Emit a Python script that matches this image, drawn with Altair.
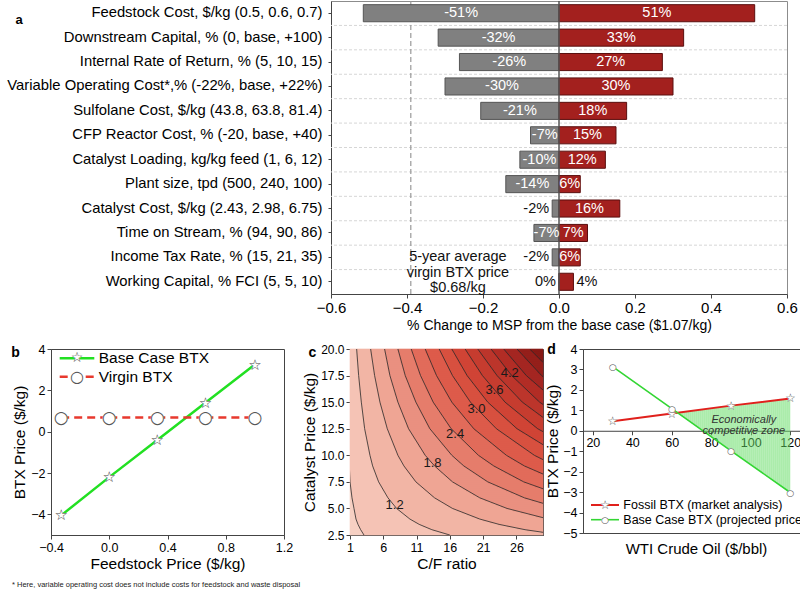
import altair as alt
import pandas as pd

FONT = "Liberation Sans"
GLYPH_FONT = "DejaVu Sans"

# ---------------- panel a : tornado ----------------
a_params = [
    "Feedstock Cost, $/kg (0.5, 0.6, 0.7)",
    "Downstream Capital, % (0, base, +100)",
    "Internal Rate of Return, % (5, 10, 15)",
    "Variable Operating Cost*,% (-22%, base, +22%)",
    "Sulfolane Cost, $/kg (43.8, 63.8, 81.4)",
    "CFP Reactor Cost, % (-20, base, +40)",
    "Catalyst Loading, kg/kg feed (1, 6, 12)",
    "Plant size, tpd (500, 240, 100)",
    "Catalyst Cost, $/kg (2.43, 2.98, 6.75)",
    "Time on Stream, % (94, 90, 86)",
    "Income Tax Rate, % (15, 21, 35)",
    "Working Capital, % FCI (5, 5, 10)",
]
a_low = [-0.515, -0.318, -0.262, -0.300, -0.206, -0.075, -0.103, -0.140, -0.018, -0.066, -0.018, 0.0]
a_high = [0.515, 0.328, 0.272, 0.300, 0.178, 0.150, 0.122, 0.056, 0.160, 0.075, 0.056, 0.038]
a_low_text = ["-51%", "-32%", "-26%", "-30%", "-21%", "-7%", "-10%", "-14%", "-2%", "-7%", "-2%", "0%"]
a_high_text = ["51%", "33%", "27%", "30%", "18%", "15%", "12%", "6%", "16%", "7%", "6%", "4%"]
a_virgin_rel = -0.39
a_note = "5-year average\nvirgin BTX price\n$0.68/kg"
a_note_x = -0.266
a_note_row = "Income Tax Rate, % (15, 21, 35)"
a_xticks = [-0.6, -0.4, -0.2, 0.0, 0.2, 0.4, 0.6]
a_xtitle = "% Change to MSP from the base case ($1.07/kg)"

# ---------------- panel b ----------------
b_feed = [-0.33, 0.0, 0.33, 0.66, 1.0]
b_base = [-4.05, -2.2, -0.4, 1.4, 3.25]
b_virgin = [0.68, 0.68, 0.68, 0.68, 0.68]
b_series = ["Base Case BTX", "Virgin BTX"]
b_xticks = [-0.4, 0.0, 0.4, 0.8, 1.2]
b_yticks = [-4, -2, 0, 2, 4]

# ---------------- panel c : contour map ----------------
c_levels = [0.9, 1.2, 1.5, 1.8, 2.1, 2.4, 2.7, 3.0, 3.3, 3.6, 3.9, 4.2, 4.5, 4.8, 5.1]
c_price = [2.5, 3, 3.5, 4, 5, 6, 7.5, 9, 10, 12.5, 15, 17.5, 20]
N = None
c_cf = [
    [3.1, 2.6, 2.2, 1.9, 1.6, 1.3, 1.0, 0.9, 0.8, 0.6, 0.5, 0.4, 0.35],
    [16.0, 13.3, 11.4, 10.0, 8.0, 6.7, 5.3, 4.4, 4.0, 3.2, 2.7, 2.3, 2.0],
    [32.8, 27.3, 23.4, 20.5, 16.4, 13.7, 10.9, 9.1, 8.2, 6.6, 5.5, 4.7, 4.1],
    [N, N, N, 30.8, 24.6, 20.5, 16.4, 13.7, 12.3, 9.8, 8.2, 7.0, 6.2],
    [N, N, N, N, 32.6, 27.2, 21.7, 18.1, 16.3, 13.0, 10.9, 9.3, 8.2],
    [N, N, N, N, N, 33.8, 27.1, 22.6, 20.3, 16.2, 13.5, 11.6, 10.2],
    [N, N, N, N, N, N, 32.7, 27.2, 24.5, 19.6, 16.3, 14.0, 12.3],
    [N, N, N, N, N, N, N, 31.9, 28.7, 23.0, 19.1, 16.4, 14.4],
    [N, N, N, N, N, N, N, N, 32.6, 26.1, 21.7, 18.6, 16.3],
    [N, N, N, N, N, N, N, N, 36.5, 29.2, 24.3, 20.9, 18.3],
    [N, N, N, N, N, N, N, N, N, 32.3, 26.9, 23.1, 20.2],
    [N, N, N, N, N, N, N, N, N, 35.4, 29.5, 25.3, 22.2],
    [N, N, N, N, N, N, N, N, N, N, 32.1, 27.5, 24.1],
    [N, N, N, N, N, N, N, N, N, N, 34.7, 29.8, 26.1],
    [N, N, N, N, N, N, N, N, N, N, N, 32.0, 28.0],
]
c_palette = ["#f7d0c3", "#f5c4b5", "#f2b5a5", "#efa594", "#ea9180", "#e67e6c", "#e26b5a", "#dd5c4b",
             "#d8503f", "#d04536", "#c73d30", "#bd352b", "#b22e26", "#a42721", "#96201b", "#881a16"]
c_label_text = ["1.2", "1.8", "2.4", "3.0", "3.6", "4.2"]
c_label_cf = [7.7, 13.4, 16.8, 20.0, 22.7, 25.0]
c_label_price = [5.3, 9.25, 12.0, 14.4, 16.1, 17.7]
c_xticks = [1, 6, 11, 16, 21, 26]
c_yticks = [2.5, 5.0, 7.5, 10.0, 12.5, 15.0, 17.5, 20.0]
C_XDOM = [1, 30]
C_YDOM = [2.5, 20]

# ---------------- panel d ----------------
d_wti = [30, 60, 90, 120]
d_fossil = [0.47, 0.84, 1.23, 1.58]
d_base = [3.14, 1.08, -0.98, -3.02]
d_series = ["Fossil BTX (market analysis)", "Base Case BTX (projected price)"]
d_zone = "Economically\ncompetitive zone"
d_zone_x, d_zone_y = 96.5, 0.55
d_xticks = [20, 40, 60, 80, 100, 120]
d_yticks = [-5, -4, -3, -2, -1, 0, 1, 2, 3, 4]
d_xtitle = "WTI Crude Oil ($/bbl)"
D_XDOM = [15, 130]
D_YDOM = [-5, 4]

footnote = "* Here, variable operating cost does not include costs for feedstock and waste disposal"

STAR_FILL, STAR_LINE = "\u2605", "\u2606"
DOT_FILL, DOT_LINE = "\u25cf", "\u25cb"


def one(**kw):
    return pd.DataFrame({k: [v] for k, v in kw.items()})


def segments(xs, ys):
    return pd.DataFrame([dict(sx=xs[i], sy=ys[i], sx2=xs[i + 1], sy2=ys[i + 1]) for i in range(len(xs) - 1)])


def interp(xs, ys, x):
    for k in range(len(xs) - 1):
        if xs[k] <= x <= xs[k + 1]:
            return ys[k] + (ys[k + 1] - ys[k]) * (x - xs[k]) / (xs[k + 1] - xs[k])
    return None


def glyph_layers(df, xenc, yenc, fill_glyph, line_glyph, size, line_color):
    """Marker drawn as a white filled glyph under an outlined glyph (text marks)."""
    d = df.assign(g1=fill_glyph, g2=line_glyph)
    under = alt.Chart(d).mark_text(font=GLYPH_FONT, fontSize=size, color="white", baseline="middle",
                                   align="center").encode(x=xenc, y=yenc, text="g1:N")
    over = alt.Chart(d).mark_text(font=GLYPH_FONT, fontSize=size, color=line_color, baseline="middle",
                                  align="center").encode(x=xenc, y=yenc, text="g2:N")
    return [under, over]


# ======================= panel a =======================
A_W, A_H = 456, 293
rows = []
for i, p in enumerate(a_params):
    for side, v, t in (("low", a_low[i], a_low_text[i]), ("high", a_high[i], a_high_text[i])):
        if abs(v) >= 0.05:
            kind, pos = "in", v / 2
        else:
            kind, pos = ("outneg" if side == "low" else "outpos"), v
        rows.append(dict(param=p, side=side, v=v, txt=t, kind=kind, pos=pos, idx=i))
df_a = pd.DataFrame(rows)
df_a_txt = df_a[["param", "txt", "kind", "pos"]].rename(columns={"pos": "v"})

xa = alt.X("v:Q", title=a_xtitle,
           scale=alt.Scale(domain=[-0.6, 0.6], nice=False, zero=False),
           axis=alt.Axis(values=a_xticks, format=".1f", titleFontSize=14, labelFontSize=15,
                         tickSize=4, labelPadding=2, titlePadding=3, labelFlush=False,
                         labelOverlap=False))
ya = alt.Y("param:N", sort=a_params, title=None,
           scale=alt.Scale(paddingInner=0, paddingOuter=0),
           axis=alt.Axis(labelFontSize=14.8, labelLimit=500, tickSize=3, labelPadding=6))

sep = alt.Chart(df_a).transform_filter("datum.side == 'low' && datum.idx > 0").mark_rule(
    color="#d6d6d6", strokeDash=[3, 2], strokeWidth=1
).encode(y=alt.Y("param:N", sort=a_params, bandPosition=0, title=None))
virgin_a = alt.Chart(pd.DataFrame({"v": [a_virgin_rel]})).mark_rule(
    color="#9a9a9a", strokeDash=[5, 3], strokeWidth=1.2).encode(x=xa)
bars = alt.Chart(df_a).mark_bar(height=alt.RelativeBandSize(0.7), strokeWidth=1).encode(
    x=xa, x2=alt.datum(0), y=ya,
    fill=alt.Fill("side:N", scale=alt.Scale(domain=["low", "high"], range=["#808080", "#a3201e"]), legend=None),
    stroke=alt.Stroke("side:N", scale=alt.Scale(domain=["low", "high"], range=["#555555", "#5a0e0e"]), legend=None),
)
zero = alt.Chart(pd.DataFrame({"v": [0.0]})).mark_rule(color="#555555", strokeWidth=1.5).encode(x=xa)
txt_in = alt.Chart(df_a_txt).transform_filter("datum.kind == 'in'").mark_text(
    color="white", fontSize=14.5, align="center", baseline="middle").encode(x=xa, y=ya, text="txt:N")
txt_neg = alt.Chart(df_a_txt).transform_filter("datum.kind == 'outneg'").mark_text(
    color="#111", fontSize=14.5, align="right", baseline="middle", dx=-3).encode(x=xa, y=ya, text="txt:N")
txt_pos = alt.Chart(df_a_txt).transform_filter("datum.kind == 'outpos'").mark_text(
    color="#111", fontSize=14.5, align="left", baseline="middle", dx=3).encode(x=xa, y=ya, text="txt:N")
note_a = alt.Chart(pd.DataFrame({"v": [a_note_x], "param": [a_note_row], "txt": [a_note]})).mark_text(
    lineBreak="\n", fontSize=14.5, lineHeight=15.5, color="#111", baseline="middle").encode(x=xa, y=ya, text="txt:N")
letter_a = alt.Chart(one(t="a")).mark_text(
    fontSize=13, fontWeight="bold", baseline="middle").encode(x=alt.value(-312), y=alt.value(19), text="t:N")
panel_a = alt.layer(sep, virgin_a, bars, zero, txt_in, txt_neg, txt_pos, note_a, letter_a).properties(
    width=A_W, height=A_H, view=alt.ViewBackground(stroke="#8c8c8c"))

# ======================= panel b =======================
B_W, B_H = 233, 186
xb_scale = alt.Scale(domain=[-0.4, 1.2], nice=False, zero=False)
yb_scale = alt.Scale(domain=[-5, 4], nice=False, zero=False)
xb_axis = alt.Axis(values=b_xticks, format=".1f", labelFlush=False, labelOverlap=False, tickSize=4,
                   labelFontSize=12.5, titleFontSize=15.5, labelPadding=2, titlePadding=3)
yb_axis = alt.Axis(values=b_yticks, labelOverlap=False, tickSize=4,
                   labelFontSize=12.5, titleFontSize=15.5, labelPadding=2, titlePadding=3)


def bx(f):
    return alt.X(f, title="Feedstock Price ($/kg)", scale=xb_scale, axis=xb_axis)


def by(f):
    return alt.Y(f, title="BTX Price ($/kg)", scale=yb_scale, axis=yb_axis)


seg_b_base = alt.Chart(segments(b_feed, b_base)).mark_rule(color="#22e022", strokeWidth=2.5, strokeCap="round").encode(
    x=bx("sx:Q"), y=by("sy:Q"), x2="sx2:Q", y2="sy2:Q")
seg_b_virgin = alt.Chart(segments(b_feed, b_virgin)).mark_rule(color="#e8392e", strokeWidth=2.5, strokeDash=[8, 5]).encode(
    x=bx("sx:Q"), y=by("sy:Q"), x2="sx2:Q", y2="sy2:Q")
df_b_base = pd.DataFrame({"px": b_feed, "py": b_base})
df_b_virgin = pd.DataFrame({"px": b_feed, "py": b_virgin})
mk_b = (glyph_layers(df_b_base, bx("px:Q"), by("py:Q"), STAR_FILL, STAR_LINE, 15, "#444")
        + glyph_layers(df_b_virgin, bx("px:Q"), by("py:Q"), DOT_FILL, DOT_LINE, 17, "#555"))
leg_pt = one(t=0)
lg_b = [
    alt.Chart(one(t=0)).mark_rule(color="#22e022", strokeWidth=2.5).encode(
        x=alt.value(8.7), x2=alt.value(43.3), y=alt.value(9.3)),
    alt.Chart(one(t=STAR_FILL)).mark_text(font=GLYPH_FONT, fontSize=14, color="white", baseline="middle").encode(
        x=alt.value(26), y=alt.value(9.3), text="t:N"),
    alt.Chart(one(t=STAR_LINE)).mark_text(font=GLYPH_FONT, fontSize=14, color="#444", baseline="middle").encode(
        x=alt.value(26), y=alt.value(9.3), text="t:N"),
    alt.Chart(one(t=b_series[0])).mark_text(fontSize=15.5, align="left", baseline="middle", color="#000").encode(
        x=alt.value(47.7), y=alt.value(9.3), text="t:N"),
    alt.Chart(one(t=0)).mark_rule(color="#e8392e", strokeWidth=2.5, strokeDash=[8, 5]).encode(
        x=alt.value(8.7), x2=alt.value(43.3), y=alt.value(27.7)),
    alt.Chart(one(t=DOT_FILL)).mark_text(font=GLYPH_FONT, fontSize=16, color="white", baseline="middle").encode(
        x=alt.value(26), y=alt.value(27.7), text="t:N"),
    alt.Chart(one(t=DOT_LINE)).mark_text(font=GLYPH_FONT, fontSize=16, color="#555", baseline="middle").encode(
        x=alt.value(26), y=alt.value(27.7), text="t:N"),
    alt.Chart(one(t=b_series[1])).mark_text(fontSize=15.5, align="left", baseline="middle", color="#000").encode(
        x=alt.value(47.7), y=alt.value(27.7), text="t:N"),
]
letter_b = alt.Chart(one(t="b")).mark_text(fontSize=14, fontWeight="bold", baseline="middle").encode(
    x=alt.value(-35.5), y=alt.value(3.7), text="t:N")
foot = alt.Chart(one(t=footnote)).mark_text(fontSize=7.5, align="left", baseline="middle", color="#222").encode(
    x=alt.value(-39), y=alt.value(236), text="t:N")
panel_b = alt.layer(seg_b_base, seg_b_virgin, *mk_b, *lg_b, letter_b, foot).properties(
    width=B_W, height=B_H, view=alt.ViewBackground(stroke="#444"))

# ======================= panel c =======================
C_W, C_H = 193, 186
INF = float("inf")


def curve_cf(li, p):
    vals = c_cf[li]
    for k in range(len(c_price) - 1):
        if c_price[k] <= p <= c_price[k + 1]:
            c0, c1 = vals[k], vals[k + 1]
            if c0 is None or c1 is None:
                return INF
            return c0 + (c1 - c0) * (p - c_price[k]) / (c_price[k + 1] - c_price[k])
    return INF


# raster the regions between the read contour lines (one rect per run of equal band in a row)
NX, NY = 193, 93
ddx = (C_XDOM[1] - C_XDOM[0]) / NX
ddy = (C_YDOM[1] - C_YDOM[0]) / NY
heat = []
for j in range(NY):
    y0 = C_YDOM[0] + j * ddy
    cy = y0 + ddy / 2
    cfs = [curve_cf(li, cy) for li in range(len(c_levels))]
    start, band = 0, None
    for i in range(NX + 1):
        b = None
        if i < NX:
            cx = C_XDOM[0] + (i + 0.5) * ddx
            b = sum(1 for v in cfs if cx > v)
        if b != band:
            if band is not None:
                heat.append(dict(hx=C_XDOM[0] + start * ddx, hx2=C_XDOM[0] + i * ddx,
                                 hy=y0, hy2=y0 + ddy, col=c_palette[band]))
            start, band = i, b
df_heat = pd.DataFrame(heat)

cseg = []
for li in range(len(c_levels)):
    pts = [(cf, p) for p, cf in zip(c_price, c_cf[li]) if cf is not None]
    for k in range(len(pts) - 1):
        cseg.append(dict(sx=pts[k][0], sy=pts[k][1], sx2=pts[k + 1][0], sy2=pts[k + 1][1]))
df_cseg = pd.DataFrame(cseg)

xc_scale = alt.Scale(domain=C_XDOM, nice=False, zero=False)
yc_scale = alt.Scale(domain=C_YDOM, nice=False, zero=False)
xc_axis = alt.Axis(values=c_xticks, labelFontSize=12.5, titleFontSize=15.5, tickSize=4,
                   labelPadding=2, titlePadding=3, labelFlush=False, labelOverlap=False)
yc_axis = alt.Axis(values=c_yticks, format=".1f", labelFontSize=12, titleFontSize=15.5, tickSize=4,
                   labelPadding=2, titlePadding=3, labelOverlap=False)


def cx_(f):
    return alt.X(f, title="C/F ratio", scale=xc_scale, axis=xc_axis)


def cy_(f):
    return alt.Y(f, title="Catalyst Price ($/kg)", scale=yc_scale, axis=yc_axis)


heat_c = alt.Chart(df_heat).mark_rect(strokeWidth=0.6).encode(
    x=cx_("hx:Q"), x2="hx2:Q", y=cy_("hy:Q"), y2="hy2:Q",
    fill=alt.Fill("col:N", scale=None), stroke=alt.Stroke("col:N", scale=None))
lines_c = alt.Chart(df_cseg).mark_rule(color="#2a2a2a", strokeWidth=0.8, clip=True).encode(
    x=cx_("sx:Q"), y=cy_("sy:Q"), x2="sx2:Q", y2="sy2:Q")
df_cl = pd.DataFrame({"lx": c_label_cf, "ly": c_label_price, "t": c_label_text})
lab_c = alt.Chart(df_cl).mark_text(fontSize=13, color="#1a1a1a").encode(x=cx_("lx:Q"), y=cy_("ly:Q"), text="t:N")
letter_c = alt.Chart(one(t="c")).mark_text(fontSize=14, fontWeight="bold", baseline="middle").encode(
    x=alt.value(-37.5), y=alt.value(3.7), text="t:N")
panel_c = alt.layer(heat_c, lines_c, lab_c, letter_c).properties(
    width=C_W, height=C_H, view=alt.ViewBackground(stroke="#444", fill=c_palette[0]))

# ======================= panel d =======================
D_W, D_H = 227, 184
x_cross = None
for i in range(len(d_wti) - 1):
    g0 = d_fossil[i] - d_base[i]
    g1 = d_fossil[i + 1] - d_base[i + 1]
    if g0 < 0 <= g1:
        x_cross = d_wti[i] + (-g0 / (g1 - g0)) * (d_wti[i + 1] - d_wti[i])
zone_rows = []
xs = x_cross
while xs < d_wti[-1] - 1e-9:
    x1 = min(xs + 1.0, d_wti[-1])
    xm = (xs + x1) / 2
    zone_rows.append(dict(zx=xs, zx2=x1, zy=interp(d_wti, d_fossil, xm), zy2=interp(d_wti, d_base, xm)))
    xs = x1
df_zone = pd.DataFrame(zone_rows)

xoff = -D_H * (0 - D_YDOM[0]) / (D_YDOM[1] - D_YDOM[0])
xd_scale = alt.Scale(domain=D_XDOM, nice=False, zero=False)
yd_scale = alt.Scale(domain=D_YDOM, nice=False, zero=False)
xd_axis = alt.Axis(values=d_xticks, offset=xoff, labelFlush=False, labelOverlap=False, tickSize=4,
                   labelFontSize=12.5, labelPadding=2)
yd_axis = alt.Axis(values=d_yticks, labelOverlap=False, tickSize=4,
                   labelFontSize=12.5, titleFontSize=15.5, labelPadding=2, titlePadding=2)


def dx_(f):
    return alt.X(f, title=None, scale=xd_scale, axis=xd_axis)


def dy_(f):
    return alt.Y(f, title="BTX Price ($/kg)", scale=yd_scale, axis=yd_axis)


zone = alt.Chart(df_zone).mark_rect(color="#66dd66", opacity=0.55).encode(
    x=dx_("zx:Q"), x2="zx2:Q", y=dy_("zy:Q"), y2="zy2:Q")
seg_d_fossil = alt.Chart(segments(d_wti, d_fossil)).mark_rule(color="#e0201c", strokeWidth=2, strokeCap="round").encode(
    x=dx_("sx:Q"), y=dy_("sy:Q"), x2="sx2:Q", y2="sy2:Q")
seg_d_base = alt.Chart(segments(d_wti, d_base)).mark_rule(color="#33d633", strokeWidth=1.6, strokeCap="round").encode(
    x=dx_("sx:Q"), y=dy_("sy:Q"), x2="sx2:Q", y2="sy2:Q")
mk_d = (glyph_layers(pd.DataFrame({"px": d_wti, "py": d_fossil}), dx_("px:Q"), dy_("py:Q"),
                     STAR_FILL, STAR_LINE, 12, "#555")
        + glyph_layers(pd.DataFrame({"px": d_wti, "py": d_base}), dx_("px:Q"), dy_("py:Q"),
                       DOT_FILL, DOT_LINE, 9, "#555"))
zone_txt = alt.Chart(one(zx=d_zone_x, zy=d_zone_y, t=d_zone)).mark_text(
    lineBreak="\n", fontSize=11, fontStyle="italic", lineHeight=11.7, color="#333", baseline="middle").encode(
    x=dx_("zx:Q"), y=dy_("zy:Q"), text="t:N")
lg_d = [
    alt.Chart(one(t=0)).mark_rule(color="#e0201c", strokeWidth=2).encode(
        x=alt.value(8), x2=alt.value(36), y=alt.value(156)),
    alt.Chart(one(t=STAR_FILL)).mark_text(font=GLYPH_FONT, fontSize=12, color="white", baseline="middle").encode(
        x=alt.value(22), y=alt.value(156), text="t:N"),
    alt.Chart(one(t=STAR_LINE)).mark_text(font=GLYPH_FONT, fontSize=12, color="#555", baseline="middle").encode(
        x=alt.value(22), y=alt.value(156), text="t:N"),
    alt.Chart(one(t=d_series[0])).mark_text(fontSize=12.5, align="left", baseline="middle", color="#000").encode(
        x=alt.value(40.3), y=alt.value(156), text="t:N"),
    alt.Chart(one(t=0)).mark_rule(color="#33d633", strokeWidth=1.6).encode(
        x=alt.value(8), x2=alt.value(36), y=alt.value(170.7)),
    alt.Chart(one(t=DOT_FILL)).mark_text(font=GLYPH_FONT, fontSize=9, color="white", baseline="middle").encode(
        x=alt.value(22), y=alt.value(170.7), text="t:N"),
    alt.Chart(one(t=DOT_LINE)).mark_text(font=GLYPH_FONT, fontSize=9, color="#555", baseline="middle").encode(
        x=alt.value(22), y=alt.value(170.7), text="t:N"),
    alt.Chart(one(t=d_series[1])).mark_text(fontSize=12.5, align="left", baseline="middle", color="#000").encode(
        x=alt.value(40.3), y=alt.value(170.7), text="t:N"),
]
title_d = alt.Chart(one(t=d_xtitle)).mark_text(fontSize=15, align="center", baseline="middle", color="#000").encode(
    x=alt.value(D_W / 2), y=alt.value(D_H + 16), text="t:N")
letter_d = alt.Chart(one(t="d")).mark_text(fontSize=14, fontWeight="bold", baseline="middle").encode(
    x=alt.value(-31.5), y=alt.value(0.7), text="t:N")
panel_d = alt.layer(zone, seg_d_fossil, seg_d_base, *mk_d, zone_txt, *lg_d, title_d, letter_d).properties(
    width=D_W, height=D_H, view=alt.ViewBackground(stroke="#444"))


# ======================= assemble =======================
def spacer(w):
    return alt.Chart(one(t="")).mark_text().encode(text="t:N").properties(
        width=w, height=1, view=alt.ViewBackground(stroke="transparent"))


INDEP = dict(color="independent", fill="independent", stroke="independent",
             shape="independent", strokeDash="independent")
top = alt.hconcat(spacer(4), panel_a, spacing=1).resolve_scale(**INDEP)
bottom = alt.hconcat(spacer(8), panel_b, panel_c, panel_d, spacing=1).resolve_scale(**INDEP)
chart = alt.vconcat(top, bottom, spacing=9).resolve_scale(**INDEP).properties(
    autosize=alt.AutoSizeParams(type="none"),
    padding={"left": 0, "top": 1, "right": 800, "bottom": 600},
).configure(font=FONT).configure_axis(
    labelFont=FONT, titleFont=FONT, labelColor="#000", titleColor="#000", titleFontWeight="normal",
    grid=False, domainColor="#444", tickColor="#444",
)

chart.save("out.html", embed_options={"renderer": "svg", "actions": False})
